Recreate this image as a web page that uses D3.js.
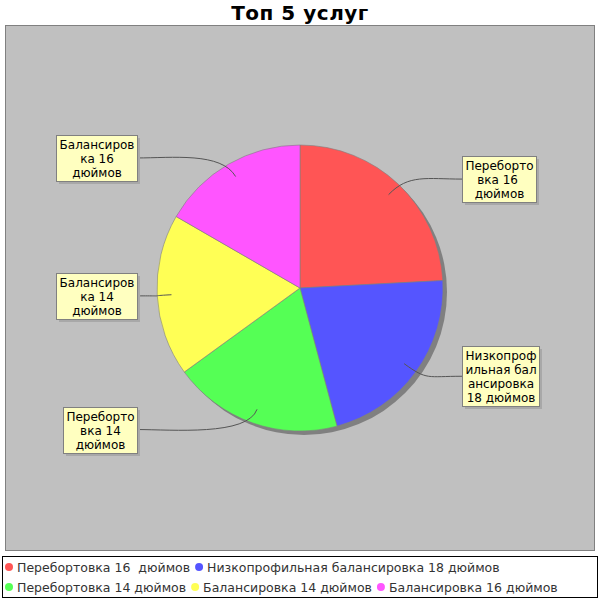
<!DOCTYPE html>
<html>
<head>
<meta charset="utf-8">
<script src="https://cdn.jsdelivr.net/npm/d3@7/dist/d3.min.js"></script>
<style>
  body { margin: 0; background: #fff; }
  svg text { font-family: "DejaVu Sans", sans-serif; }
</style>
</head>
<body>
<script>
// data
const categories = ['Переборка16', 'Низкопроф18', 'Переборка14', 'Баланс14', 'Баланс16'];
const legendNames = ['Перебортовка 16  дюймов', 'Низкопрофильная балансировка 18 дюймов',
  'Перебортовка 14 дюймов', 'Балансировка 14 дюймов', 'Балансировка 16 дюймов'];
const values = [29, 26, 23, 22, 20];
const labelLines = [
  ['Переборто', 'вка 16 ', 'дюймов'],
  ['Низкопроф', 'ильная бал', 'ансировка', '18 дюймов'],
  ['Переборто', 'вка 14', 'дюймов'],
  ['Балансиров', 'ка 14', 'дюймов'],
  ['Балансиров', 'ка 16', 'дюймов']
];
const colors = ['#FF5555', '#5555FF', '#55FF55', '#FFFF55', '#FF55FF'];

const W = 600, H = 600;
const cx = 300, cy = 288, r = 143;

const svg = d3.select('body').append('svg').attr('width', W).attr('height', H);

// title
svg.append('text').attr('x', 300).attr('y', 20).attr('text-anchor', 'middle')
  .style('font-size', '20px').style('font-weight', 'bold').style('letter-spacing', '0.5px')
  .text('Топ 5 услуг');

// plot background
svg.append('rect').attr('x', 5.5).attr('y', 25.5).attr('width', 589).attr('height', 525)
  .attr('fill', '#C0C0C0').attr('stroke', '#808080');

const pie = d3.pie().sort(null).value(d => d)(values);
const arc = d3.arc().innerRadius(0).outerRadius(r);

const g = svg.append('g').attr('transform', `translate(${cx},${cy})`);
// shadow
g.append('circle').attr('cx', 4).attr('cy', 4).attr('r', r).attr('fill', '#808080');
g.selectAll('path.slice').data(pie).enter().append('path')
  .attr('class', 'slice')
  .attr('d', arc)
  .attr('fill', (d, i) => colors[i])
  .attr('stroke', '#808080').attr('stroke-width', 0.6);

// labels
const lineH = 14;
pie.forEach((d, i) => {
  const mid = (d.startAngle + d.endAngle) / 2;
  const right = Math.sin(mid) > 0;
  const ax = cx + 0.9 * r * Math.sin(mid), ay = cy - 0.9 * r * Math.cos(mid);
  const ly = cy - 1.05 * r * Math.cos(mid);
  const lines = labelLines[i];
  const lg = svg.append('g');
  const tmp = lg.append('g');
  const texts = tmp.selectAll('text').data(lines).enter().append('text')
    .style('font-size', '12px').style('white-space', 'pre').text(t => t);
  let tw = 0;
  texts.each(function () { tw = Math.max(tw, this.getComputedTextLength()); });
  const bw = Math.round(tw + 6), bh = lines.length * lineH + 4;
  const bx = right ? cx + r + 19 : cx - r - 20 - bw;
  const by = Math.round(ly - bh / 2);
  const ex = right ? bx : bx + bw;
  const c1x = cx + 1.1 * r * Math.sin(mid), c1y = cy - 1.1 * r * Math.cos(mid);
  const c2x = ex + (right ? -35 : 35);
  svg.insert('path', () => lg.node())
    .attr('d', `M${ax},${ay}C${c1x},${c1y} ${c2x},${ly} ${ex},${ly}`)
    .attr('fill', 'none').attr('stroke', '#555').attr('stroke-width', 1);
  lg.insert('rect', () => tmp.node()).attr('x', bx + 3).attr('y', by + 3).attr('width', bw).attr('height', bh)
    .attr('fill', '#A8A8A8');
  lg.insert('rect', () => tmp.node()).attr('x', bx + 0.5).attr('y', by + 0.5).attr('width', bw).attr('height', bh)
    .attr('fill', '#FFFFC0').attr('stroke', '#808080');
  texts.attr('x', bx + bw / 2 + 0.5).attr('text-anchor', 'middle')
    .attr('y', (t, j) => by + 2 + lineH * j + 11.5);
});

// legend
svg.append('rect').attr('x', 2.5).attr('y', 556.5).attr('width', 595).attr('height', 41)
  .attr('fill', '#fff').attr('stroke', '#000');
const rows = [[0, 1], [2, 3, 4]];
rows.forEach((row, ri) => {
  let x = 5;
  const y = 567 + ri * 20;
  row.forEach(i => {
    svg.append('circle').attr('cx', x + 4).attr('cy', y).attr('r', 4).attr('fill', colors[i]);
    const t = svg.append('text').attr('x', x + 12).attr('y', y + 4.5)
      .style('font-size', '12.5px').style('white-space', 'pre').attr('fill', '#333').text(legendNames[i]);
    x += 12 + t.node().getComputedTextLength() + 5;
  });
});
</script>
</body>
</html>
